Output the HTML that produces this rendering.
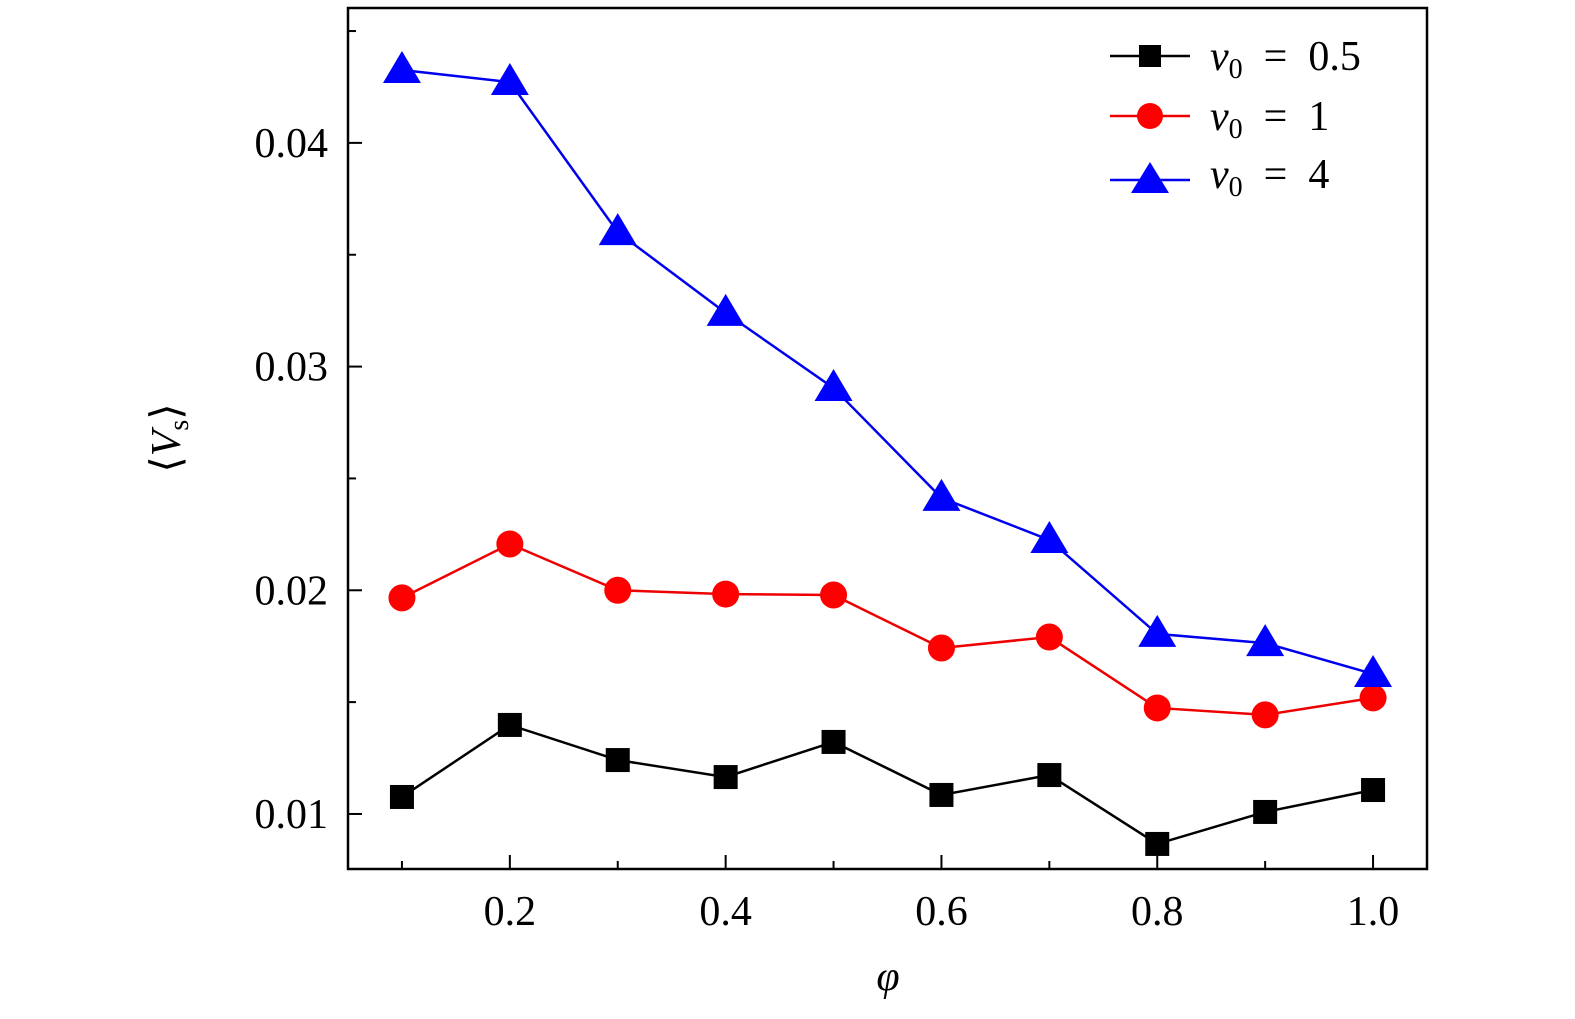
<!DOCTYPE html>
<html><head><meta charset="utf-8"><style>
body{margin:0;background:#fff}
svg text{font-family:"Liberation Serif",serif;fill:#000}
</style></head><body>
<svg id="chart" width="1575" height="1014">
<rect x="348" y="8" width="1079" height="861" fill="none" stroke="#000" stroke-width="2.5"/>
<g id="axes"></g>
<g id="series"></g>
<text x="888" y="990" font-size="42" font-style="italic" text-anchor="middle">φ</text>
<text transform="translate(180,438) rotate(-90)" font-size="42" text-anchor="middle">⟨<tspan font-style="italic">V</tspan><tspan font-size="28" dy="8">s</tspan><tspan dy="-8">⟩</tspan></text>
<g>
<line x1="1110" y1="56" x2="1190" y2="56" stroke="#000" stroke-width="2.5"/>
<rect x="1139" y="45" width="22" height="22" fill="#000"/>
<text x="1210" y="70" font-size="42"><tspan font-style="italic">v</tspan><tspan font-size="28" dy="8">0</tspan><tspan dy="-8" xml:space="preserve">  =  0.5</tspan></text>
<line x1="1110" y1="116" x2="1190" y2="116" stroke="#e00" stroke-width="2.5"/>
<circle cx="1150" cy="116" r="13" fill="#f00"/>
<text x="1210" y="130" font-size="42"><tspan font-style="italic">v</tspan><tspan font-size="28" dy="8">0</tspan><tspan dy="-8" xml:space="preserve">  =  1</tspan></text>
<line x1="1110" y1="180" x2="1190" y2="180" stroke="#00e" stroke-width="2.5"/>
<polygon points="1150,162 1169,193 1131,193" fill="#00f"/>
<text x="1210" y="188" font-size="42"><tspan font-style="italic">v</tspan><tspan font-size="28" dy="8">0</tspan><tspan dy="-8" xml:space="preserve">  =  4</tspan></text>
</g>
</svg>
<script>
const phi=[0.1,0.2,0.3,0.4,0.5,0.6,0.7,0.8,0.9,1.0];
const v05=[0.01076,0.01398,0.01241,0.01165,0.01322,0.01085,0.01174,0.00866,0.01009,0.01107];
const v1=[0.01966,0.02207,0.0200,0.01983,0.01979,0.01742,0.01791,0.01474,0.01443,0.01519];
const v4=[0.04326,0.04272,0.03601,0.03240,0.02904,0.02413,0.02225,0.01805,0.01764,0.01626];
const yTicks=[0.01,0.02,0.03,0.04];
const yLabels=["0.01","0.02","0.03","0.04"];
const xTicks=[0.2,0.4,0.6,0.8,1.0];
const xLabels=["0.2","0.4","0.6","0.8","1.0"];
const NS="http://www.w3.org/2000/svg";
const X=v=>348+(v-0.05)/1.0*1079;
const Y=v=>869-(v-0.00754)/(0.04603-0.00754)*861;
function mk(t,a,p){const e=document.createElementNS(NS,t);for(const k in a)e.setAttribute(k,a[k]);p.appendChild(e);return e;}
const ax=document.getElementById('axes');
yTicks.forEach((t,i)=>{const y=Y(t);
 const l=mk('line',{x1:348,x2:362,y1:y,y2:y,stroke:'#000','stroke-width':2},ax);
 
 
 const tx=mk('text',{x:328,y:y+14,'font-size':42,'text-anchor':'end'},ax);tx.textContent=yLabels[i];
 
 
});
[0.015,0.025,0.035,0.045].forEach(t=>{const y=Y(t);
 const l=mk('line',{x1:348,x2:356,y1:y,y2:y,stroke:'#000','stroke-width':2},ax);
 
 
});
xTicks.forEach((t,i)=>{const x=X(t);
 const l=mk('line',{x1:x,x2:x,y1:869,y2:855,stroke:'#000','stroke-width':2},ax);
 
 
 const tx=mk('text',{x:x,y:925,'font-size':42,'text-anchor':'middle'},ax);tx.textContent=xLabels[i];
 
 
});
[0.1,0.3,0.5,0.7,0.9].forEach(t=>{const x=X(t);
 const l=mk('line',{x1:x,x2:x,y1:869,y2:861,stroke:'#000','stroke-width':2},ax);
 
 
});
const sg=document.getElementById('series');
function series(vals,color,fill,shape,name){
 const pl=mk('polyline',{points:vals.map((v,i)=>X(phi[i])+','+Y(v)).join(' '),fill:'none',stroke:color,'stroke-width':2.5},sg);
 
 
 vals.forEach((v,i)=>{const x=X(phi[i]),y=Y(v);let m;
  if(shape==='sq')m=mk('rect',{x:x-12,y:y-12,width:24,height:24,fill:fill},sg);
  else if(shape==='c')m=mk('circle',{cx:x,cy:y,r:13.5,fill:fill},sg);
  else m=mk('polygon',{points:`${x},${y-19} ${x+19},${y+13} ${x-19},${y+13}`,fill:fill},sg);
  
  
 });
}
series(v05,'#000','#000','sq','series-v05');
series(v1,'#e00','#f00','c','series-v1');
series(v4,'#00e','#00f','t','series-v4');
</script>
</body></html>
